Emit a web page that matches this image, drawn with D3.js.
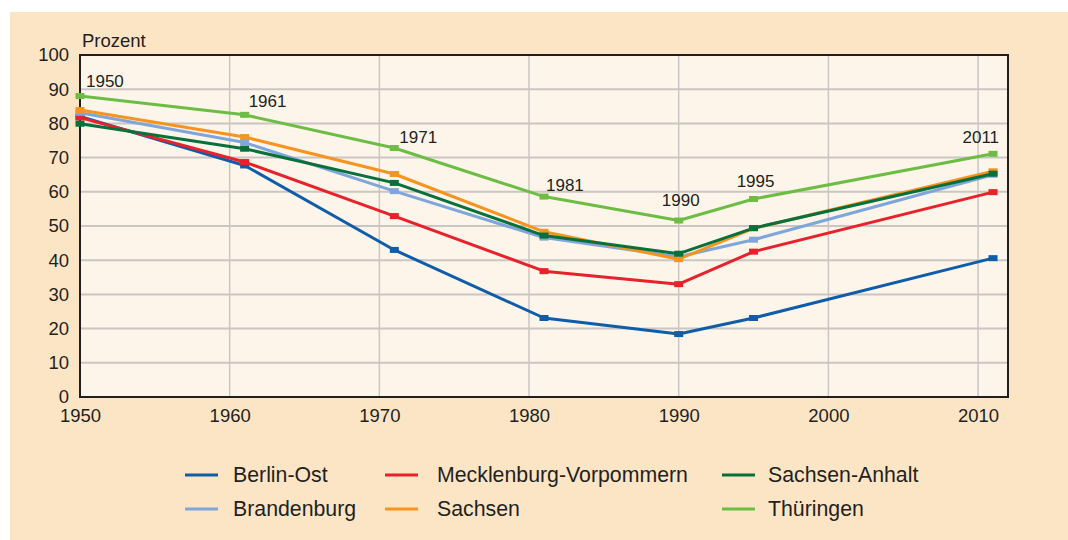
<!DOCTYPE html>
<html>
<head>
<meta charset="utf-8">
<script src="https://cdn.jsdelivr.net/npm/d3@7"></script>
<style>
  html, body { margin: 0; padding: 0; background: #ffffff; }
  svg { display: block; font-family: "Liberation Sans", Arial, sans-serif; }
</style>
</head>
<body>
<div id="chart"></div>
<script>
// census years (x values)
const years = [1950, 1961, 1971, 1981, 1990, 1995, 2011];

// series, percent per year
const berlinOst = [82.0, 67.7, 43.0, 23.1, 18.4, 23.1, 40.6];
const brandenburg = [83.1, 74.4, 60.2, 46.6, 41.0, 46.0, 65.0];
const mecklenburg = [81.7, 68.7, 52.9, 36.8, 33.0, 42.5, 59.9];
const sachsen = [83.9, 76.0, 65.2, 48.3, 40.3, 49.3, 66.0];
const sachsenAnhalt = [79.9, 72.6, 62.6, 47.2, 41.9, 49.4, 65.3];
const thueringen = [88.0, 82.5, 72.8, 58.6, 51.6, 57.9, 71.1];

const seriesNames = ['Berlin-Ost', 'Brandenburg', 'Mecklenburg-Vorpommern', 'Sachsen', 'Sachsen-Anhalt', 'Thüringen'];
const seriesValues = [berlinOst, brandenburg, mecklenburg, sachsen, sachsenAnhalt, thueringen];
const seriesColors = ['#0f5ca8', '#7fa6da', '#e8212b', '#f7931e', '#07703b', '#6dbd45'];

const yTicks = [0, 10, 20, 30, 40, 50, 60, 70, 80, 90, 100];
const xTicks = [1950, 1960, 1970, 1980, 1990, 2000, 2010];
const yearLabels = ['1950', '1961', '1971', '1981', '1990', '1995', '2011'];

const W = 1068, H = 540;
const margin = { top: 55, right: 60, bottom: 143, left: 80 };
const width = W - margin.left - margin.right;
const height = H - margin.top - margin.bottom;

const svg = d3.select('#chart').append('svg')
  .attr('width', W)
  .attr('height', H);

// beige panel
svg.append('rect')
  .attr('x', 10).attr('y', 12)
  .attr('width', W - 10).attr('height', H - 12)
  .attr('fill', '#fce5c5');

const g = svg.append('g')
  .attr('transform', `translate(${margin.left},${margin.top})`);

const x = d3.scaleLinear().domain([1950, 2012]).range([0, width]);
const y = d3.scaleLinear().domain([0, 100]).range([height, 0]);

// plot background
g.append('rect')
  .attr('width', width).attr('height', height)
  .attr('fill', '#fdf5ea');

// grid
g.append('g').selectAll('line')
  .data(yTicks.slice(1, -1))
  .enter().append('line')
  .attr('x1', 0).attr('x2', width)
  .attr('y1', d => y(d)).attr('y2', d => y(d))
  .attr('stroke', '#c9c6c4').attr('stroke-width', 2);

g.append('g').selectAll('line')
  .data(xTicks.slice(1))
  .enter().append('line')
  .attr('x1', d => x(d)).attr('x2', d => x(d))
  .attr('y1', 0).attr('y2', height)
  .attr('stroke', '#c9c6c4').attr('stroke-width', 1.5);

// axes (labels only, frame drawn separately)
const yAxis = d3.axisLeft(y).tickValues(yTicks).tickSize(0).tickPadding(11);
const xAxis = d3.axisBottom(x).tickValues(xTicks).tickSize(0).tickPadding(12).tickFormat(d3.format('d'));

const ya = g.append('g').call(yAxis);
const xa = g.append('g').attr('transform', `translate(0,${height})`).call(xAxis);
[ya, xa].forEach(a => {
  a.select('.domain').remove();
  a.selectAll('text')
    .attr('font-family', '"Liberation Sans", Arial, sans-serif')
    .attr('font-size', 18.5)
    .attr('fill', '#231f20');
});

// frame
g.append('rect')
  .attr('width', width).attr('height', height)
  .attr('fill', 'none')
  .attr('stroke', '#231f20').attr('stroke-width', 2);

svg.append('text')
  .attr('x', margin.left + 2).attr('y', 47)
  .attr('font-size', 18.5).attr('fill', '#231f20')
  .text('Prozent');

// lines
const line = d3.line()
  .x((d, i) => x(years[i]))
  .y(d => y(d));

// draw order: back to front as in the picture
const drawOrder = [0, 2, 1, 3, 4, 5];
drawOrder.forEach(k => {
  g.append('path')
    .attr('d', line(seriesValues[k]))
    .attr('fill', 'none')
    .attr('stroke', seriesColors[k])
    .attr('stroke-width', 3)
    .attr('stroke-linejoin', 'round');
  g.append('g').selectAll('rect')
    .data(seriesValues[k])
    .enter().append('rect')
    .attr('x', (d, i) => x(years[i]) - 4.5)
    .attr('y', d => y(d) - 3)
    .attr('width', 9).attr('height', 6)
    .attr('fill', seriesColors[k]);
});

// year labels placed above the top series (Thüringen)
const labelPlace = [
  { anchor: 'start', dx: 6, dy: -9 },
  { anchor: 'start', dx: 4, dy: -8 },
  { anchor: 'start', dx: 5, dy: -5 },
  { anchor: 'start', dx: 2, dy: -6 },
  { anchor: 'middle', dx: 2, dy: -15 },
  { anchor: 'middle', dx: 2, dy: -12 },
  { anchor: 'end', dx: 6, dy: -11 }
];
g.append('g').selectAll('text')
  .data(yearLabels)
  .enter().append('text')
  .attr('x', (d, i) => x(years[i]) + labelPlace[i].dx)
  .attr('y', (d, i) => y(thueringen[i]) + labelPlace[i].dy)
  .attr('text-anchor', (d, i) => labelPlace[i].anchor)
  .attr('font-size', 17)
  .attr('fill', '#231f20')
  .text(d => d);

// legend: 3 columns x 2 rows
const legendOrder = [0, 2, 4, 1, 3, 5];
const colX = [185, 385, 722];
const textGap = [48, 52, 46];
const rowY = [475, 509];
const legend = svg.append('g');
legendOrder.forEach((k, j) => {
  const cx = colX[j % 3], cy = rowY[Math.floor(j / 3)];
  legend.append('line')
    .attr('x1', cx).attr('x2', cx + 33)
    .attr('y1', cy).attr('y2', cy)
    .attr('stroke', seriesColors[k]).attr('stroke-width', 3);
  legend.append('text')
    .attr('x', cx + textGap[j % 3]).attr('y', cy)
    .attr('dy', '0.35em')
    .attr('font-size', 21.3)
    .attr('fill', '#231f20')
    .text(seriesNames[k]);
});
</script>
</body>
</html>
